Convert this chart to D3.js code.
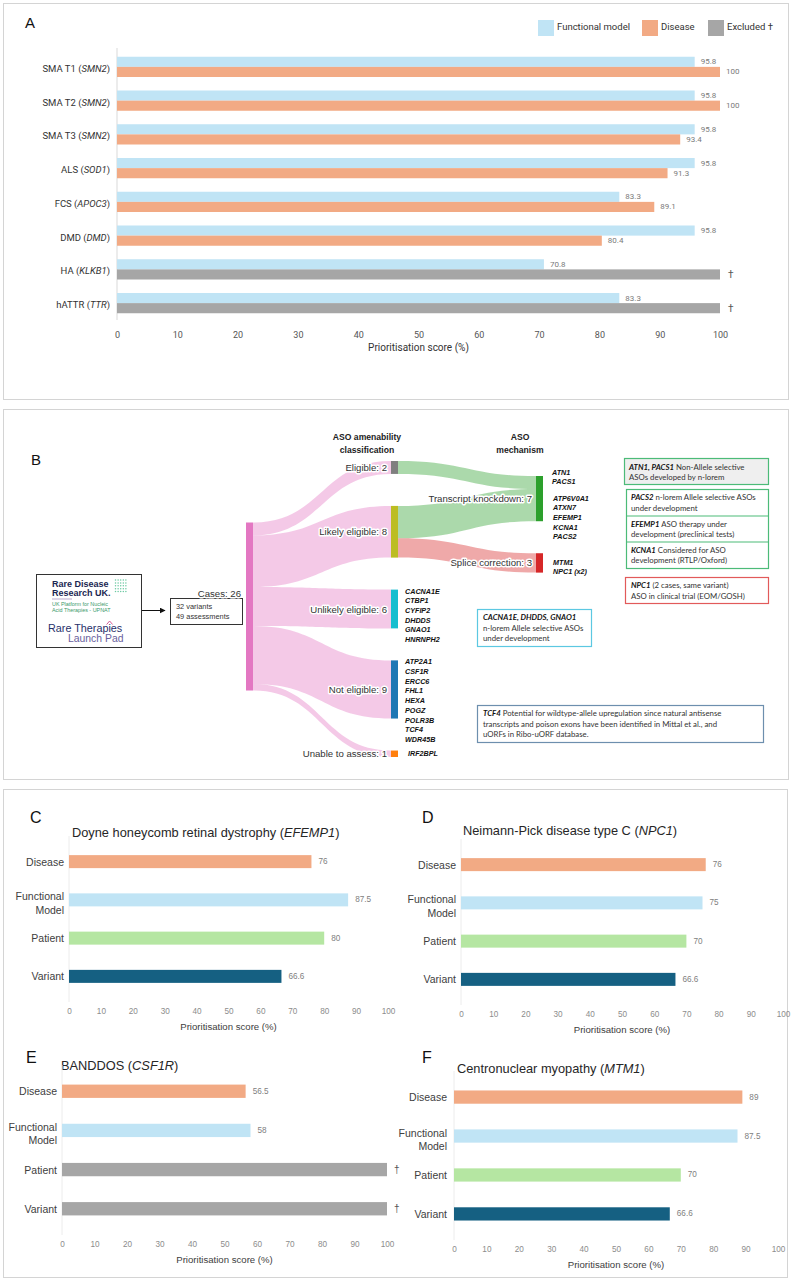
<!DOCTYPE html>
<html>
<head>
<meta charset="utf-8">
<script src="https://cdn.jsdelivr.net/npm/d3@7"></script>
<style>
  body { margin: 0; background: #fff; }
  svg { display: block; }
</style>
</head>
<body>
<script>
// ---------- data: panel A ----------
const aDiseases = ["SMA T1", "SMA T2", "SMA T3", "ALS", "FCS", "DMD", "HA", "hATTR"];
const aGenes = ["SMN2", "SMN2", "SMN2", "SOD1", "APOC3", "DMD", "KLKB1", "TTR"];
const aFunctional = [95.8, 95.8, 95.8, 95.8, 83.3, 95.8, 70.8, 83.3];
const aDisease = [100, 100, 93.4, 91.3, 89.1, 80.4, null, null]; // null = excluded
const aTicks = [0, 10, 20, 30, 40, 50, 60, 70, 80, 90, 100];
const aLegend = ["Functional model", "Disease", "Excluded \u2020"];

// ---------- data: panel B (sankey) ----------
const totalCases = 26;
const classNames = ["Eligible", "Likely eligible", "Unlikely eligible", "Not eligible", "Unable to assess"];
const classCounts = [2, 8, 6, 9, 1];
const mechNames = ["Transcript knockdown", "Splice correction"];
const mechCounts = [7, 3];
const mechLinks = [
  ["Eligible", "Transcript knockdown", 2],
  ["Likely eligible", "Transcript knockdown", 5],
  ["Likely eligible", "Splice correction", 3]
];
const tkEligibleGenes = ["ATN1", "PACS1"];
const tkLikelyGenes = ["ATP6V0A1", "ATXN7", "EFEMP1", "KCNA1", "PACS2"];
const spliceGenes = ["MTM1", "NPC1 (x2)"];
const unlikelyGenes = ["CACNA1E", "CTBP1", "CYFIP2", "DHDDS", "GNAO1", "HNRNPH2"];
const notEligibleGenes = ["ATP2A1", "CSF1R", "ERCC6", "FHL1", "HEXA", "POGZ", "POLR3B", "TCF4", "WDR45B"];
const unableGenes = ["IRF2BPL"];

// notes: each line is [bold italic part, regular part]
const noteAtn1 = [["ATN1, PACS1", " Non-Allele selective"], ["", "ASOs developed by n-lorem"]];
const notePacs2 = [["PACS2", " n-lorem Allele selective ASOs"], ["", "under development"]];
const noteEfemp1 = [["EFEMP1", " ASO therapy under"], ["", "development (preclinical tests)"]];
const noteKcna1 = [["KCNA1", " Considered for ASO"], ["", "development (RTLP/Oxford)"]];
const noteNpc1 = [["NPC1", " (2 cases, same variant)"], ["", "ASO in clinical trial (EOM/GOSH)"]];
const noteCacna = [["CACNA1E, DHDDS, GNAO1", ""], ["", "n-lorem Allele selective ASOs"], ["", "under development"]];
const noteTcf4 = [["TCF4", " Potential for wildtype-allele upregulation since natural antisense"],
  ["", "transcripts and poison exons have been identified in Mittal et al., and"],
  ["", "uORFs in Ribo-uORF database."]];

// ---------- data: panels C-F ----------
const cfCategories = ["Disease", "Functional Model", "Patient", "Variant"];
const cfTicks = [0, 10, 20, 30, 40, 50, 60, 70, 80, 90, 100];
const cValues = [76, 87.5, 80, 66.6];
const dValues = [76, 75, 70, 66.6];
const eValues = [56.5, 58, null, null];
const fValues = [89, 87.5, 70, 66.6];
const cTitle = ["Doyne honeycomb retinal dystrophy (", "EFEMP1", ")"];
const dTitle = ["Neimann-Pick disease type C (", "NPC1", ")"];
const eTitle = ["BANDDOS (", "CSF1R", ")"];
const fTitle = ["Centronuclear myopathy (", "MTM1", ")"];

// ---------- setup ----------
const W = 792, H = 1280;
const SANS = "'Liberation Sans', Arial, sans-serif";
const NARROW = "Roboto, 'Liberation Sans', sans-serif";
const OFFICE = "Lato, 'Liberation Sans', sans-serif";
const cBlue = "#c0e4f5", cOrange = "#f2aa84", cGray = "#a6a6a6", cGreen = "#b5e6a2", cNavy = "#156082";

const svg = d3.select("body").append("svg")
  .attr("width", W).attr("height", H);

// panel frames
svg.append("rect").attr("x", 3.5).attr("y", 3.5).attr("width", 785).attr("height", 396)
  .attr("fill", "none").attr("stroke", "#d4d4d4");
svg.append("rect").attr("x", 3.5).attr("y", 409.5).attr("width", 785).attr("height", 370)
  .attr("fill", "none").attr("stroke", "#d4d4d4");
svg.append("rect").attr("x", 3.5).attr("y", 789.5).attr("width", 784).attr("height", 488)
  .attr("fill", "none").attr("stroke", "#d4d4d4");

// ================= PANEL A =================
const gA = svg.append("g");
gA.append("text").attr("x", 25).attr("y", 28).text("A")
  .attr("font-family", SANS).attr("font-size", 15).attr("fill", "#111");

const aX = d3.scaleLinear().domain([0, 100]).range([117, 720]);
const aY = d3.scaleBand().domain(aDiseases).range([50, 320]).paddingInner(0.4).paddingOuter(0.2);
const aSub = d3.scaleBand().domain(["fm", "dis"]).range([0, aY.bandwidth()]);

gA.append("line").attr("x1", aX(0)).attr("x2", aX(0)).attr("y1", 48).attr("y2", 320)
  .attr("stroke", "#d9d9d9");

const aRows = aDiseases.map((d, i) => ({ d, gene: aGenes[i], fm: aFunctional[i], dis: aDisease[i] }));

const rowG = gA.selectAll(".rowA").data(aRows).enter().append("g")
  .attr("transform", d => `translate(0,${aY(d.d)})`);

rowG.append("rect")
  .attr("x", aX(0)).attr("y", aSub("fm"))
  .attr("width", d => aX(d.fm) - aX(0)).attr("height", aSub.bandwidth())
  .attr("fill", cBlue);
rowG.append("rect")
  .attr("x", aX(0)).attr("y", aSub("dis"))
  .attr("width", d => aX(d.dis == null ? 100 : d.dis) - aX(0)).attr("height", aSub.bandwidth())
  .attr("fill", d => d.dis == null ? cGray : cOrange);

rowG.append("text")
  .attr("x", d => aX(d.fm) + 6).attr("y", aSub("fm") + aSub.bandwidth() / 2)
  .attr("dominant-baseline", "central")
  .attr("font-family", NARROW).attr("font-size", 8).attr("fill", "#7a7a7a")
  .text(d => d.fm);
rowG.append("text")
  .attr("x", d => aX(d.dis == null ? 100 : d.dis) + (d.dis == null ? 8 : 6))
  .attr("y", aSub("dis") + aSub.bandwidth() / 2)
  .attr("dominant-baseline", "central")
  .attr("font-family", NARROW).attr("font-size", d => d.dis == null ? 10 : 8)
  .attr("fill", d => d.dis == null ? "#555" : "#7a7a7a")
  .text(d => d.dis == null ? "\u2020" : d.dis);

const aLab = rowG.append("text")
  .attr("x", 110).attr("y", aY.bandwidth() / 2 + 1)
  .attr("text-anchor", "end").attr("dominant-baseline", "central")
  .attr("font-family", NARROW).attr("font-size", 9.5).attr("fill", "#333");
aLab.append("tspan").text(d => d.d + " (");
aLab.append("tspan").attr("font-style", "italic").text(d => d.gene);
aLab.append("tspan").text(")");

const aAxis = gA.append("g").attr("transform", "translate(0,320)")
  .call(d3.axisBottom(aX).tickValues(aTicks).tickSize(0).tickPadding(12));
aAxis.select(".domain").remove();
aAxis.selectAll("text").attr("font-family", NARROW).attr("font-size", 9).attr("fill", "#555");

gA.append("text").attr("x", (aX(0) + aX(100)) / 2).attr("y", 351)
  .attr("text-anchor", "middle").attr("font-family", NARROW).attr("font-size", 10).attr("fill", "#333")
  .text("Prioritisation score (%)");

// legend
const legX = [538, 642, 708];
const legCol = [cBlue, cOrange, cGray];
const leg = gA.selectAll(".leg").data(aLegend).enter().append("g")
  .attr("transform", (d, i) => `translate(${legX[i]},20)`);
leg.append("rect").attr("width", 16).attr("height", 16).attr("fill", (d, i) => legCol[i]);
leg.append("text").attr("x", 19).attr("y", 6).attr("dominant-baseline", "central")
  .attr("font-family", NARROW).attr("font-size", 9.5).attr("fill", "#333").text(d => d);

// ================= PANEL B =================
const gB = svg.append("g");
gB.append("text").attr("x", 31).attr("y", 465).text("B")
  .attr("font-family", SANS).attr("font-size", 15).attr("fill", "#111");

// logo box
const logo = gB.append("g");
logo.append("rect").attr("x", 36.5).attr("y", 574.5).attr("width", 105).attr("height", 73)
  .attr("fill", "#fff").attr("stroke", "#333");
logo.append("text").attr("x", 52).attr("y", 586.5).text("Rare Disease")
  .attr("font-family", SANS).attr("font-weight", "bold").attr("font-size", 9).attr("fill", "#1b2651");
logo.append("text").attr("x", 52).attr("y", 596).text("Research UK.")
  .attr("font-family", SANS).attr("font-weight", "bold").attr("font-size", 9).attr("fill", "#1b2651");
const dots = [];
for (let r = 0; r < 5; r++) for (let c = 0; c < 5; c++) dots.push([115.5 + c * 2.6, 580 + r * 2.9]);
logo.selectAll(".dot").data(dots).enter().append("circle")
  .attr("cx", d => d[0]).attr("cy", d => d[1]).attr("r", 0.75).attr("fill", "#6cc9a2");
logo.append("line").attr("x1", 52).attr("x2", 72).attr("y1", 599).attr("y2", 599)
  .attr("stroke", "#8b6ca8").attr("stroke-width", 0.6);
logo.append("text").attr("x", 52).attr("y", 605.5).text("UK Platform for Nucleic")
  .attr("font-family", SANS).attr("font-size", 5.4).attr("fill", "#3a9a6a");
logo.append("text").attr("x", 52).attr("y", 611.5).text("Acid Therapies - UPNAT")
  .attr("font-family", SANS).attr("font-size", 5.4).attr("fill", "#3a9a6a");
const rt = logo.append("text").attr("x", 48).attr("y", 632).text("Rare Therapies")
  .attr("font-family", SANS).attr("font-size", 10.8).attr("fill", "#27306a");
// caret over the "i" of Therapies
const iIdx = "Rare Therapies".lastIndexOf("i");
const iNode = rt.node();
const ix = (iNode.getStartPositionOfChar(iIdx).x + iNode.getEndPositionOfChar(iIdx).x) / 2;
logo.append("polyline").attr("points", `${ix - 3},624.5 ${ix},621 ${ix + 3},624.5`)
  .attr("fill", "none").attr("stroke", "#cf4a8c").attr("stroke-width", 0.9);
logo.append("text").attr("x", 68).attr("y", 642).text("Launch Pad")
  .attr("font-family", SANS).attr("font-size", 10.4).attr("fill", "#6a5f9e");

// arrow
svg.append("defs").append("marker").attr("id", "arr").attr("viewBox", "0 0 10 10")
  .attr("refX", 9).attr("refY", 5).attr("markerWidth", 6).attr("markerHeight", 6).attr("orient", "auto")
  .append("path").attr("d", "M0,0L10,5L0,10Z").attr("fill", "#111");
gB.append("line").attr("x1", 142).attr("x2", 165).attr("y1", 610.5).attr("y2", 610.5)
  .attr("stroke", "#111").attr("marker-end", "url(#arr)");

// cases box
gB.append("rect").attr("x", 170.5).attr("y", 598.5).attr("width", 72).attr("height", 26)
  .attr("fill", "#fff").attr("stroke", "#333");
gB.append("text").attr("x", 176).attr("y", 606.5).attr("dominant-baseline", "central").text("32 variants")
  .attr("font-family", SANS).attr("font-size", 7.4).attr("fill", "#333");
gB.append("text").attr("x", 176).attr("y", 616.5).attr("dominant-baseline", "central").text("49 assessments")
  .attr("font-family", SANS).attr("font-size", 7.4).attr("fill", "#333");

// sankey layout
const k = d3.scaleLinear().domain([0, totalCases]).range([0, 168]);
const nodeW = 7, gap = 32;
const srcX = 246, classX = 391, mechX = 536;
const srcTop = 522.5;
const pal = d3.schemeCategory10;
const classColors = [pal[7], pal[8], pal[9], pal[0], pal[1]];
const mechColors = [pal[2], pal[3]];

let yy = 461;
const classNodes = classNames.map((n, i) => {
  const node = { name: n, count: classCounts[i], x0: classX, x1: classX + nodeW, y0: yy, y1: yy + k(classCounts[i]), color: classColors[i] };
  yy = node.y1 + gap;
  return node;
});
yy = 476;
const mechNodes = mechNames.map((n, i) => {
  const node = { name: n, count: mechCounts[i], x0: mechX, x1: mechX + nodeW, y0: yy, y1: yy + k(mechCounts[i]), color: mechColors[i] };
  yy = node.y1 + gap;
  return node;
});
const srcNode = { x0: srcX, x1: srcX + nodeW, y0: srcTop, y1: srcTop + k(totalCases) };

function ribbon(x0, y0, x1, y1, w) {
  const xm = (x0 + x1) / 2;
  return `M${x0},${y0}C${xm},${y0} ${xm},${y1} ${x1},${y1}` +
    `L${x1},${y1 + w}C${xm},${y1 + w} ${xm},${y0 + w} ${x0},${y0 + w}Z`;
}

// source -> class links
let sOff = srcNode.y0;
const srcLinks = classNodes.map(cn => {
  const l = { x0: srcNode.x1, y0: sOff, x1: cn.x0, y1: cn.y0, w: k(cn.count) };
  sOff += l.w;
  return l;
});
gB.selectAll(".lnk1").data(srcLinks).enter().append("path")
  .attr("d", l => ribbon(l.x0, l.y0, l.x1, l.y1, l.w))
  .attr("fill", pal[6]).attr("fill-opacity", 0.4);

// class -> mechanism links
const outOff = {}, inOff = {};
classNodes.forEach(n => outOff[n.name] = n.y0);
mechNodes.forEach(n => inOff[n.name] = n.y0);
const mLinks = mechLinks.map(([from, to, v]) => {
  const cn = classNodes.find(n => n.name === from);
  const mn = mechNodes.find(n => n.name === to);
  const l = { x0: cn.x1, y0: outOff[from], x1: mn.x0, y1: inOff[to], w: k(v), color: mn.color };
  outOff[from] += l.w; inOff[to] += l.w;
  return l;
});
gB.selectAll(".lnk2").data(mLinks).enter().append("path")
  .attr("d", l => ribbon(l.x0, l.y0, l.x1, l.y1, l.w))
  .attr("fill", l => l.color).attr("fill-opacity", 0.4);

// nodes
gB.append("rect").attr("x", srcNode.x0).attr("y", srcNode.y0)
  .attr("width", nodeW).attr("height", srcNode.y1 - srcNode.y0).attr("fill", pal[6]);
gB.selectAll(".cn").data(classNodes.concat(mechNodes)).enter().append("rect")
  .attr("x", n => n.x0).attr("y", n => n.y0)
  .attr("width", nodeW).attr("height", n => n.y1 - n.y0).attr("fill", n => n.color);

// node labels with halo
function haloText(g, x, y, txt, size) {
  g.append("text").attr("x", x).attr("y", y).attr("text-anchor", "end").attr("dominant-baseline", "central")
    .attr("font-family", SANS).attr("font-size", size).attr("fill", "#333")
    .attr("stroke", "#fff").attr("stroke-width", 3).attr("stroke-linejoin", "round")
    .attr("paint-order", "stroke").text(txt);
}
classNodes.concat(mechNodes).forEach(n => {
  haloText(gB, n.x0 - 4, (n.y0 + n.y1) / 2, `${n.name}: ${n.count}`, 9.6);
});
haloText(gB, 241, 593, `Cases: ${totalCases}`, 9.6);

// column headings
function heading(x, lines) {
  lines.forEach((t, i) => gB.append("text").attr("x", x).attr("y", 437 + i * 13)
    .attr("text-anchor", "middle").attr("dominant-baseline", "central")
    .attr("font-family", SANS).attr("font-weight", "bold").attr("font-size", 8.6).attr("fill", "#222").text(t));
}
heading(367, ["ASO amenability", "classification"]);
heading(520, ["ASO", "mechanism"]);

// gene lists
const lh = 9.7;
function geneList(x, y, genes) {
  gB.selectAll(null).data(genes).enter().append("text")
    .attr("x", x).attr("y", (d, i) => y + i * lh).attr("dominant-baseline", "central")
    .attr("font-family", SANS).attr("font-weight", "bold").attr("font-style", "italic")
    .attr("font-size", 7.2).attr("fill", "#111").text(d => d);
}
const tk = mechNodes[0], sc = mechNodes[1];
geneList(tk.x1 + 9, tk.y0 - 4, tkEligibleGenes);
geneList(tk.x1 + 10, tk.y0 + 22, tkLikelyGenes);
geneList(sc.x1 + 10, sc.y0 + 9, spliceGenes);
geneList(classNodes[2].x1 + 7, classNodes[2].y0 + 1.5, unlikelyGenes);
geneList(classNodes[3].x1 + 7, classNodes[3].y0 + 1.5, notEligibleGenes);
geneList(classNodes[4].x1 + 10, (classNodes[4].y0 + classNodes[4].y1) / 2, unableGenes);

// notes
function note(x, y, w, h, lines, stroke, fill, tx, ty, lineH) {
  gB.append("rect").attr("x", x + 0.5).attr("y", y + 0.5).attr("width", w).attr("height", h)
    .attr("fill", fill).attr("stroke", stroke).attr("stroke-width", 1.2);
  noteText(tx, ty, lines, lineH);
}
function noteText(tx, ty, lines, lineH) {
  lines.forEach((ln, i) => {
    const t = gB.append("text").attr("x", tx).attr("y", ty + i * lineH).attr("dominant-baseline", "central")
      .attr("font-family", OFFICE).attr("font-size", 7.8).attr("fill", "#333");
    if (ln[0]) t.append("tspan").attr("font-weight", "bold").attr("font-style", "italic").attr("fill", "#111").text(ln[0]);
    t.append("tspan").text(ln[1]);
  });
}
const gStroke = "#4cbb78";
note(624, 458, 144, 26, noteAtn1, gStroke, "#efefef", 629, 466.5, 10.5);
note(626, 489, 142, 79, [], gStroke, "#fff", 0, 0, 0);
gB.append("line").attr("x1", 626).attr("x2", 768).attr("y1", 516).attr("y2", 516).attr("stroke", gStroke).attr("stroke-width", 1.2);
gB.append("line").attr("x1", 626).attr("x2", 768).attr("y1", 542).attr("y2", 542).attr("stroke", gStroke).attr("stroke-width", 1.2);
noteText(631, 497, notePacs2, 10.5);
noteText(631, 523.5, noteEfemp1, 10.5);
noteText(631, 549.5, noteKcna1, 10.5);
note(625, 577, 143, 26, noteNpc1, "#e25a5a", "#fff", 631, 585, 10.5);
note(477, 609, 114, 37, noteCacna, "#5cc8e2", "#fff", 483, 617, 10.7);
note(477, 705, 286, 37, noteTcf4, "#6d8fae", "#fff", 483, 713, 10.5);

// ================= PANELS C-F =================
const catColors = [cOrange, cBlue, cGreen, cNavy];
function smallPanel(cfg, values, title) {
  const g = svg.append("g");
  const x = d3.scaleLinear().domain([0, 100]).range([cfg.x0, cfg.x1]);
  const y = d3.scaleBand().domain(cfCategories).range([cfg.yTop, cfg.yBot]).paddingInner(0.66).paddingOuter(0.5);

  g.append("text").attr("x", cfg.lx).attr("y", cfg.ly).attr("dominant-baseline", "central").text(cfg.letter)
    .attr("font-family", SANS).attr("font-size", 16).attr("fill", "#111");
  const tt = g.append("text").attr("x", cfg.tx).attr("y", cfg.ty).attr("dominant-baseline", "central")
    .attr("font-family", SANS).attr("font-size", 12.8).attr("fill", "#262626");
  tt.append("tspan").text(title[0]);
  tt.append("tspan").attr("font-style", "italic").text(title[1]);
  tt.append("tspan").text(title[2]);

  g.append("line").attr("x1", x(0)).attr("x2", x(0)).attr("y1", cfg.yTop).attr("y2", cfg.yBot)
    .attr("stroke", "#ececec");

  const rows = cfCategories.map((c, i) => ({ c, v: values[i], color: catColors[i] }));
  g.selectAll(".bar").data(rows).enter().append("rect")
    .attr("x", x(0)).attr("y", d => y(d.c))
    .attr("width", d => x(d.v == null ? 100 : d.v) - x(0)).attr("height", y.bandwidth())
    .attr("fill", d => d.v == null ? cGray : d.color);
  g.selectAll(".val").data(rows).enter().append("text")
    .attr("x", d => x(d.v == null ? 100 : d.v) + 7).attr("y", d => y(d.c) + y.bandwidth() / 2)
    .attr("dominant-baseline", "central")
    .attr("font-family", SANS).attr("font-size", d => d.v == null ? 10 : 8.2)
    .attr("fill", d => d.v == null ? "#555" : "#808080")
    .text(d => d.v == null ? "\u2020" : d.v);

  rows.forEach(d => {
    const parts = d.c.split(" ");
    const cy = y(d.c) + y.bandwidth() / 2;
    const lines = parts.length > 1 ? parts : [d.c];
    lines.forEach((p, j) => {
      g.append("text").attr("x", cfg.labR).attr("y", lines.length > 1 ? cy - 3.5 + j * 13.5 : cy)
        .attr("text-anchor", "end").attr("dominant-baseline", "central")
        .attr("font-family", SANS).attr("font-size", 10.5).attr("fill", "#404040").text(p);
    });
  });

  const ax = g.append("g").attr("transform", `translate(0,${cfg.yBot})`)
    .call(d3.axisBottom(x).tickValues(cfTicks).tickSize(0).tickPadding(6));
  ax.select(".domain").remove();
  ax.selectAll("text").attr("font-family", SANS).attr("font-size", 8.2).attr("fill", "#8c8c8c");
  g.append("text").attr("x", (cfg.x0 + cfg.x1) / 2).attr("y", cfg.yBot + 24)
    .attr("text-anchor", "middle").attr("dominant-baseline", "central")
    .attr("font-family", SANS).attr("font-size", 9.6).attr("fill", "#404040")
    .text("Prioritisation score (%)");
}

smallPanel({ x0: 69, x1: 388, yTop: 836, yBot: 1002, letter: "C", lx: 30, ly: 817, tx: 72, ty: 832, labR: 64 }, cValues, cTitle);
smallPanel({ x0: 461, x1: 783, yTop: 839, yBot: 1005, letter: "D", lx: 422, ly: 817, tx: 463, ty: 830, labR: 456 }, dValues, dTitle);
smallPanel({ x0: 62, x1: 387, yTop: 1065, yBot: 1235, letter: "E", lx: 26, ly: 1057, tx: 61, ty: 1065, labR: 57 }, eValues, eTitle);
smallPanel({ x0: 454, x1: 778, yTop: 1071, yBot: 1240, letter: "F", lx: 422, ly: 1057, tx: 457, ty: 1068, labR: 447 }, fValues, fTitle);
</script>
</body>
</html>
